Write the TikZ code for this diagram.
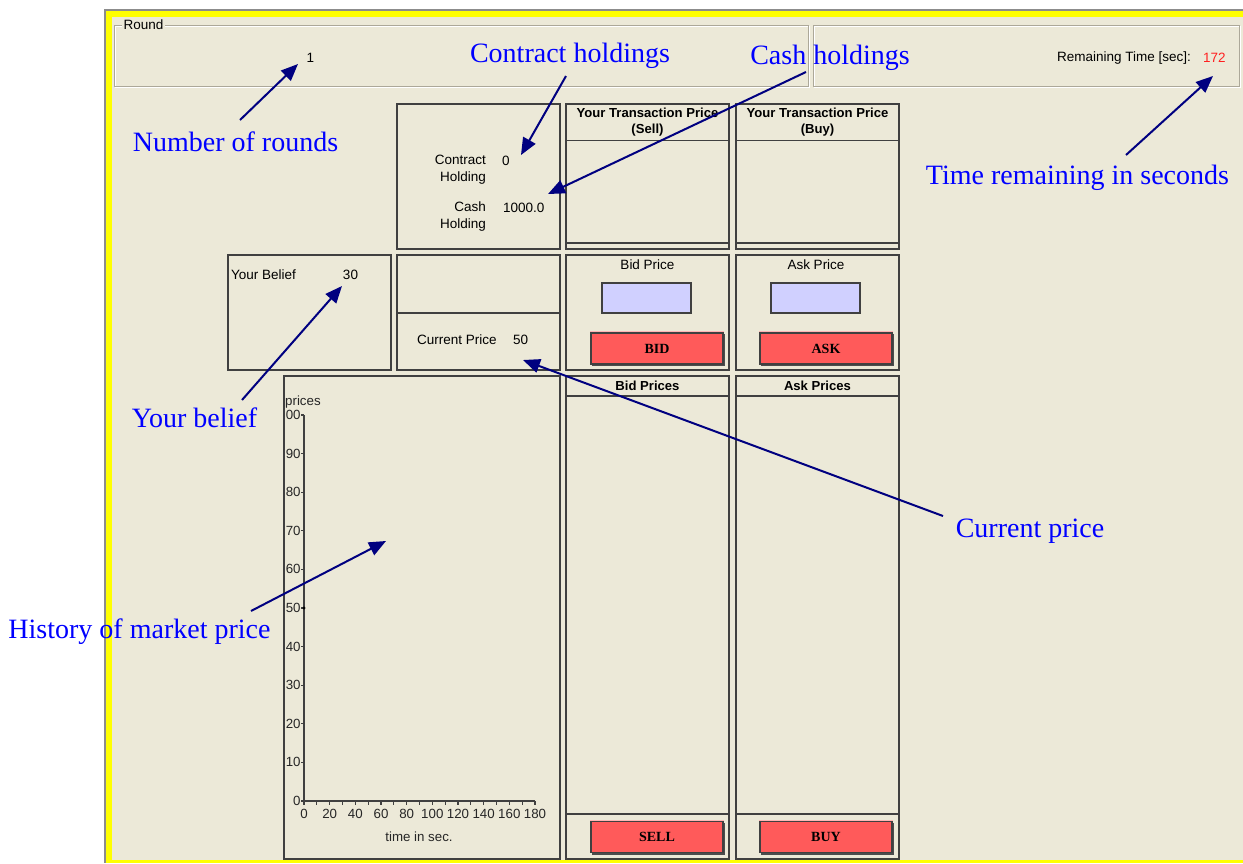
\documentclass[tikz,border=0pt]{standalone}
\usepackage{fontspec}
\setmainfont{Liberation Serif}
\newfontfamily\uifont{Liberation Sans}
\newfontfamily\annfont{Liberation Serif}
\newfontfamily\btnfont{Liberation Serif}
\usetikzlibrary{arrows.meta}
\definecolor{winbg}{HTML}{ECE9D8}
\definecolor{annblue}{HTML}{0000FF}
\definecolor{navyarr}{HTML}{000080}
\definecolor{panelline}{HTML}{404040}
\definecolor{etch}{HTML}{ACA899}
\definecolor{fieldfill}{HTML}{D0D0FF}
\definecolor{btnred}{HTML}{FF5A5A}
\definecolor{btnlight}{HTML}{FFB4B4}
\definecolor{timered}{HTML}{FF2020}
\definecolor{winyellow}{HTML}{FFFF00}
\definecolor{wingray}{HTML}{8C8C8C}
\begin{document}
\begin{tikzpicture}[x=1pt,y=-1pt,
  panel/.style={draw=panelline,line width=1.3pt},
  ui/.style={font=\uifont\fontsize{13.5}{16}\selectfont,text=black,inner sep=0pt},
  uib/.style={font=\uifont\bfseries\fontsize{13.1}{16}\selectfont,text=black,inner sep=0pt,align=center},
  axl/.style={font=\uifont\fontsize{13.3}{15}\selectfont,text=black!85,inner sep=0pt},
  ann/.style={font=\annfont\fontsize{28}{32}\selectfont,text=annblue,inner sep=0pt},
  arr/.style={draw=navyarr,line width=2pt,-{Triangle[length=17pt,width=14pt]}},
  btn/.style={draw=panelline,line width=1.3pt,fill=btnred,minimum width=132pt,minimum height=31pt,font=\btnfont\bfseries\fontsize{14}{16}\selectfont,inner sep=0pt},
  field/.style={draw=panelline,line width=1.3pt,fill=fieldfill},
  tickline/.style={draw=panelline,line width=1.2pt},
]
\useasboundingbox (0,0) rectangle (1243,863);
\fill[white] (0,0) rectangle (1243,863);
% window frame
\fill[wingray] (104,9) rectangle (1243,863);
\fill[winyellow] (106,11) rectangle (1243,863);
\fill[winbg] (111.5,16.5) rectangle (1243,860);

% Round group box
\draw[white,line width=1pt] (115,26) rectangle (809,87);
\draw[etch,line width=1pt] (114,25) rectangle (808,86);
\node[ui,fill=winbg,inner xsep=1.5pt,inner ysep=1pt,anchor=west] (roundtitle) at (122,25) {Round};
\node[ui] (roundval) at (310.5,58) {1};

% Remaining time group box
\draw[white,line width=1pt] (814,26) rectangle (1240,87);
\draw[etch,line width=1pt] (813,25) rectangle (1239,86);
\node[ui,anchor=east] (remlabel) at (1191,58) {Remaining Time [sec]:};
\node[ui,anchor=west,text=timered] (remval) at (1203,58) {172};

% Holdings box
\draw[panel] (397,104) rectangle (560,249);
\node[ui,align=right,anchor=east,font=\uifont\fontsize{13.5}{17}\selectfont] (contractlbl) at (486,169.5) {Contract\\Holding};
\node[ui,anchor=west] (contractval) at (502,161) {0};
\node[ui,align=right,anchor=east,font=\uifont\fontsize{13.5}{17}\selectfont] (cashlbl) at (486,216.5) {Cash\\Holding};
\node[ui,anchor=west] (cashval) at (503,208) {1000.0};

% Transaction price boxes
\draw[panel] (566,104) rectangle (729,249);
\draw[panel] (566,140.5) -- (729,140.5);
\draw[panel] (566,243) -- (729,243);
\node[uib] (sellhead) at (647.5,122) {Your Transaction Price\\(Sell)};
\draw[panel] (736,104) rectangle (899,249);
\draw[panel] (736,140.5) -- (899,140.5);
\draw[panel] (736,243) -- (899,243);
\node[uib] (buyhead) at (817.5,122) {Your Transaction Price\\(Buy)};

% Your belief box
\draw[panel] (228,255) rectangle (391,370);
\node[ui,anchor=west] (belieflbl) at (231,275) {Your Belief};
\node[ui] (beliefval) at (350.5,275) {30};

% Current price box
\draw[panel] (397,255) rectangle (560,370);
\draw[panel] (397,313) -- (560,313);
\node[ui,anchor=west] (curlbl) at (417,340) {Current Price};
\node[ui,anchor=west] (curval) at (513,340) {50};

% Bid price box
\draw[panel] (566,255) rectangle (729,370);
\node[ui] (bidpricelbl) at (647.5,265) {Bid Price};
\draw[field] (602,283) rectangle (691,313);
\draw[btnlight,line width=1pt] (590,364.5) -- (590,331.5) -- (724,331.5);
\node[btn] (bidbtn) at (657,348.5) {BID};
\draw[black!70,line width=1.2pt] (592,365.5) -- (724.5,365.5) -- (724.5,334);

% Ask price box
\draw[panel] (736,255) rectangle (899,370);
\node[ui] (askpricelbl) at (816,265) {Ask Price};
\draw[field] (771,283) rectangle (860,313);
\draw[btnlight,line width=1pt] (759,364.5) -- (759,331.5) -- (893,331.5);
\node[btn] (askbtn) at (826,348.5) {ASK};
\draw[black!70,line width=1.2pt] (761,365.5) -- (893.5,365.5) -- (893.5,334);

% Chart box
\draw[panel] (284,376) rectangle (560,859);
\node[axl,anchor=west] (priceslbl) at (285,402) {prices};
\draw[panelline,line width=1.6pt] (304,415) -- (304,801) -- (535,801);
\foreach \k/\lab in {0/0,1/10,2/20,3/30,4/40,5/50,6/60,7/70,8/80,9/90,10/00}{
  \draw[tickline] (301,{801-\k*38.6}) -- (304,{801-\k*38.6});
  \node[axl,anchor=east] (yl\k) at (300.8,{801-\k*38.6}) {\lab};
}
\fill[black] (304,608) circle (1.6);
\foreach \k in {0,...,18}{
  \draw[tickline] ({304+\k*12.833},801) -- ({304+\k*12.833},804.5);
}
\foreach \k/\lab in {0/0,1/20,2/40,3/60,4/80,5/100,6/120,7/140,8/160,9/180}{
  \node[axl] (xl\k) at ({304+\k*25.667},813.5) {\lab};
}
\node[axl] (timelbl) at (419,837) {time in sec.};

% Bid prices box
\draw[panel] (566,376) rectangle (729,859);
\draw[panel] (566,396) -- (729,396);
\draw[panel] (566,814) -- (729,814);
\node[uib] (bidpriceshead) at (647.5,386) {Bid Prices};
\draw[btnlight,line width=1pt] (590,852.5) -- (590,820) -- (724,820);
\node[btn] (sellbtn) at (657,837) {SELL};
\draw[black!70,line width=1.2pt] (592,854) -- (724.5,854) -- (724.5,822.5);

% Ask prices box
\draw[panel] (736,376) rectangle (899,859);
\draw[panel] (736,396) -- (899,396);
\draw[panel] (736,814) -- (899,814);
\node[uib] (askpriceshead) at (817.5,386) {Ask Prices};
\draw[btnlight,line width=1pt] (759,852.5) -- (759,820) -- (893,820);
\node[btn] (buybtn) at (826,837) {BUY};
\draw[black!70,line width=1.2pt] (761,854) -- (893.5,854) -- (893.5,822.5);

% Annotations
\node[ann] (annrounds) at (235.5,142) {Number of rounds};
\node[ann] (anncontract) at (570,55.5) {Contract holdings};
\node[ann] (anncash) at (830,57.5) {Cash holdings};
\node[ann] (anntime) at (1077.5,177.5) {Time remaining in seconds};
\node[ann] (annbelief) at (194.5,418) {Your belief};
\node[ann] (anncurrent) at (1030,531.5) {Current price};
\node[ann] (annhistory) at (139.5,632) {History of market price};

\coordinate (s-rounds) at (240,120);
\coordinate (t-rounds) at (298,64);
\coordinate (s-contract) at (566,76);
\coordinate (t-contract) at (521,155);
\coordinate (s-cash) at (806,72);
\coordinate (t-cash) at (548,194);
\coordinate (s-time) at (1126,155);
\coordinate (t-time) at (1213,76);
\coordinate (s-belief) at (242,400);
\coordinate (t-belief) at (342,286);
\coordinate (s-current) at (943,516);
\coordinate (t-current) at (523,360);
\coordinate (s-history) at (251,611);
\coordinate (t-history) at (386,541);

\draw[arr] (s-rounds) -- (t-rounds);
\draw[arr] (s-contract) -- (t-contract);
\draw[arr] (s-cash) -- (t-cash);
\draw[arr] (s-time) -- (t-time);
\draw[arr] (s-belief) -- (t-belief);
\draw[arr] (s-current) -- (t-current);
\draw[arr] (s-history) -- (t-history);
\end{tikzpicture}
\end{document}
